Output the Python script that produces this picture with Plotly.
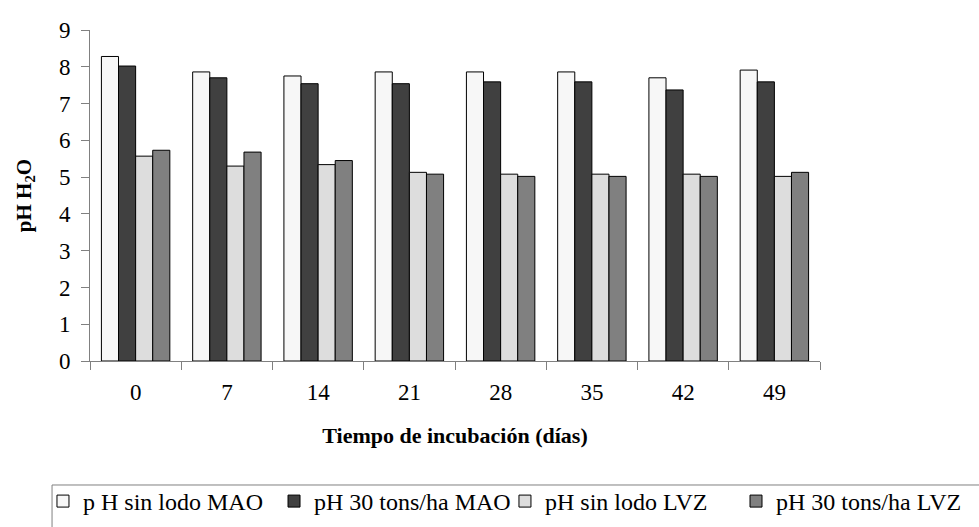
import plotly.graph_objects as go

categories = ["0", "7", "14", "21", "28", "35", "42", "49"]
series_names = ["p H sin lodo MAO", "pH 30 tons/ha MAO", "pH sin lodo LVZ", "pH 30 tons/ha LVZ"]
s1 = [8.28, 7.86, 7.75, 7.86, 7.86, 7.86, 7.70, 7.91]
s2 = [8.02, 7.70, 7.54, 7.54, 7.59, 7.59, 7.37, 7.59]
s3 = [5.57, 5.30, 5.34, 5.13, 5.08, 5.08, 5.08, 5.02]
s4 = [5.73, 5.68, 5.45, 5.08, 5.02, 5.02, 5.02, 5.13]
colors = ["#F7F7F7", "#404040", "#DDDDDD", "#808080"]
legend_ids = ["legend", "legend2", "legend3", "legend4"]
legend_x = [0.0439, 0.2799, 0.5158, 0.7518]

font_family = "Liberation Serif"

fig = go.Figure()
for name, vals, col, lg in zip(series_names, [s1, s2, s3, s4], colors, legend_ids):
    fig.add_trace(go.Bar(x=categories, y=vals, name=name, legend=lg,
                         marker=dict(color=col, line=dict(color="black", width=1))))

legend_common = dict(orientation="h", xref="container", yref="container",
                     xanchor="left", yanchor="top", borderwidth=0,
                     bgcolor="rgba(0,0,0,0)", itemwidth=30,
                     font=dict(family=font_family, size=24, color="black"),
                     traceorder="normal", tracegroupgap=0)

legends = {lg: dict(x=lx, y=0.0911, **legend_common) for lg, lx in zip(legend_ids, legend_x)}

fig.update_layout(
    width=979, height=527,
    margin=dict(l=90, r=159, t=30, b=166),
    paper_bgcolor="white", plot_bgcolor="white",
    barmode="group", bargap=0.25, bargroupgap=0,
    font=dict(family=font_family, size=22, color="black"),
    showlegend=True,
    shapes=[dict(type="rect", xref="paper", yref="paper",
                 x0=-0.052, x1=1.35, y0=-0.3746, y1=-0.7,
                 line=dict(color="#808080", width=1), fillcolor="rgba(0,0,0,0)",
                 layer="below")],
    **legends,
)
fig.update_xaxes(
    type="category", showline=True, linecolor="#808080", linewidth=1,
    ticks="outside", tickson="boundaries", ticklen=8, tickcolor="#808080",
    showgrid=False, tickfont=dict(family=font_family, size=23), ticklabelstandoff=10,
    title=dict(text="<b>Tiempo de incubación (días)</b>", font=dict(family=font_family, size=22), standoff=24),
)
fig.update_yaxes(
    range=[0, 9], dtick=1, showline=True, linecolor="#808080", linewidth=1,
    ticks="outside", ticklen=8, tickcolor="#808080", showgrid=False,
    zeroline=False, tickfont=dict(family=font_family, size=23), ticklabelstandoff=6,
    title=dict(text="<b>pH H<sub>2</sub>O</b>", font=dict(family=font_family, size=21), standoff=21),
)

fig.write_html("out.html")
